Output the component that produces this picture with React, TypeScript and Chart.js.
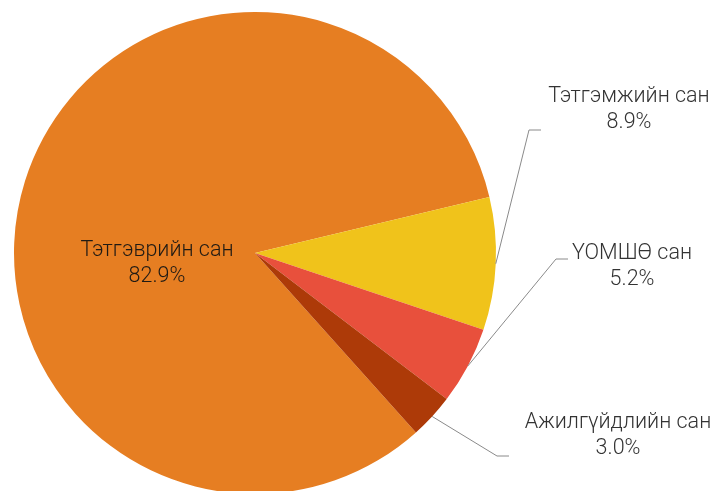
import React, { useEffect, useRef } from "react";
import { Chart, registerables } from "chart.js";

Chart.register(...registerables);

const categories = ["Тэтгэврийн сан", "Тэтгэмжийн сан", "ҮОМШӨ сан", "Ажилгүйдлийн сан"];
const shares = [82.9, 8.9, 5.2, 3.0];
const percentLabels = ["82.9%", "8.9%", "5.2%", "3.0%"];
const sliceColors = ["#E67E22", "#F0C31B", "#E8503C", "#AD3A08"];

// label layout (style/position config, not data)
const labelLayout = [
  { inside: true, cx: 157, base: 256, elbow: null, end: null },
  { inside: false, cx: 629, base: 102, elbow: [529, 130], end: [541, 130] },
  { inside: false, cx: 632, base: 259, elbow: [556, 259], end: [568, 259] },
  { inside: false, cx: 618, base: 428, elbow: [497, 456], end: [509, 456] },
];

const labelPlugin = {
  id: "pieLabels",
  afterDatasetsDraw(chart: any) {
    const ctx = chart.ctx;
    const meta = chart.getDatasetMeta(0);
    ctx.save();
    ctx.font = "300 21.5px Roboto";
    ctx.textAlign = "center";
    ctx.textBaseline = "alphabetic";
    meta.data.forEach((arc: any, i: number) => {
      const lay = labelLayout[i];
      const p = arc.getProps(["x", "y", "startAngle", "endAngle", "outerRadius"], true);
      if (!lay.inside && lay.elbow && lay.end) {
        const mid = (p.startAngle + p.endAngle) / 2;
        const sx = p.x + Math.cos(mid) * p.outerRadius;
        const sy = p.y + Math.sin(mid) * p.outerRadius;
        ctx.strokeStyle = "#8a8a8a";
        ctx.lineWidth = 1;
        ctx.beginPath();
        ctx.moveTo(sx, sy);
        ctx.lineTo(lay.elbow[0], lay.elbow[1]);
        ctx.lineTo(lay.end[0], lay.end[1]);
        ctx.stroke();
      }
      ctx.fillStyle = lay.inside ? "#1f1a14" : "#333333";
      ctx.fillText(categories[i], lay.cx, lay.base);
      ctx.fillText(percentLabels[i], lay.cx, lay.base + 25.5);
    });
    ctx.restore();
  },
};

export default function App() {
  const ref = useRef<HTMLCanvasElement | null>(null);
  useEffect(() => {
    if (!ref.current) return;
    const chart = new Chart(ref.current, {
      type: "pie",
      data: {
        labels: categories,
        datasets: [
          {
            data: shares,
            backgroundColor: sliceColors,
            borderWidth: 0,
            radius: 241,
            clip: false as any,
          } as any,
        ],
      },
      options: {
        responsive: false,
        animation: false,
        events: [],
        rotation: 138.1,
        layout: { padding: { left: 0, right: 203, top: 15, bottom: 0 } },
        plugins: { legend: { display: false }, tooltip: { enabled: false } },
      },
      plugins: [labelPlugin],
    });
    return () => chart.destroy();
  }, []);
  return (
    <div style={{ position: "fixed", left: 0, top: 0, width: 713, height: 491, background: "#fff" }}>
      <canvas ref={ref} width={713} height={491} style={{ display: "block" }} />
    </div>
  );
}
